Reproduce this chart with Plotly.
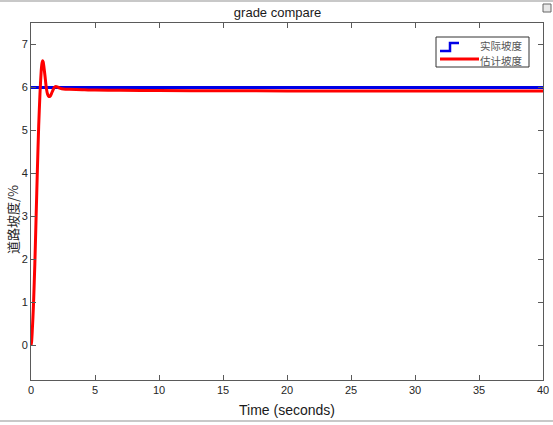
"""
grade compare: actual vs estimated road grade.
"""
import plotly.graph_objects as go

# ─── Data ────────────────────────────────────────────────────────────────────
t_actual = [0, 40]
grade_actual = [6.0, 6.0]

t_est = [0, 0.05, 0.1, 0.15, 0.2, 0.3, 0.4, 0.5, 0.6, 0.7, 0.8, 0.85, 0.9, 0.95,
         1.0, 1.1, 1.2, 1.3, 1.4, 1.5, 1.6, 1.7, 1.8, 1.9, 2.0, 2.1, 2.2, 2.4,
         2.7, 3.0, 4.0, 5.0, 7.0, 10.0, 15.0, 20.0, 30.0, 40.0]
grade_est = [0, 0.1, 0.35, 0.65, 1.0, 1.9, 3.0, 4.1, 5.1, 5.85, 6.4, 6.55, 6.62, 6.6,
             6.5, 6.25, 5.98, 5.84, 5.79, 5.8, 5.86, 5.93, 5.99, 6.02, 6.02, 6.01, 5.99, 5.97,
             5.96, 5.96, 5.95, 5.94, 5.935, 5.93, 5.925, 5.92, 5.92, 5.92]

x_ticks = [0, 5, 10, 15, 20, 25, 30, 35, 40]
y_ticks = [0, 1, 2, 3, 4, 5, 6, 7]
legend_names = ["实际坡度", "估计坡度"]

# ─── Colours ─────────────────────────────────────────────────────────────────
C_BLUE = "#0000e6"
C_RED = "#ff0000"
C_AXIS = "#5a5a5a"
C_TEXT = "#262626"
SANS = "Arial, Liberation Sans"
CJK = "Noto Sans CJK SC"

# plot area in pixels (for the hand-made legend)
L, R, T, B = 31, 543, 23, 380


def px(x):
    return (x - L) / (R - L)


def py(y):
    return (B - y) / (B - T)


fig = go.Figure()

fig.add_trace(go.Scatter(
    x=t_actual, y=grade_actual, mode="lines", line_shape="hv",
    line=dict(color=C_BLUE, width=3), name=legend_names[0], showlegend=False,
))
fig.add_trace(go.Scatter(
    x=t_est, y=grade_est, mode="lines", line_shape="spline",
    line=dict(color=C_RED, width=3, smoothing=0.6), name=legend_names[1], showlegend=False,
))

axis_common = dict(
    showgrid=False, zeroline=False, showline=True, linecolor=C_AXIS, linewidth=1,
    mirror="ticks", ticks="inside", ticklen=5, tickcolor=C_AXIS, automargin=False,
    tickfont=dict(family=SANS, size=11, color=C_TEXT),
)

fig.update_layout(
    width=553, height=425,
    margin=dict(l=L, r=553 - R, t=T, b=425 - B),
    paper_bgcolor="white", plot_bgcolor="white",
    title=dict(text="grade compare", x=px(288), xanchor="center", y=(425 - 12) / 425,
               yanchor="middle", font=dict(family=SANS, size=13, color="#1a1a1a")),
    xaxis=dict(range=[0, 40], tickvals=x_ticks, **axis_common),
    yaxis=dict(range=[-0.8, 7.5], tickvals=y_ticks, **axis_common),
    showlegend=False,
)

# axis titles
fig.add_annotation(text="Time (seconds)", xref="paper", yref="paper",
                   x=px(287), y=py(410), xanchor="center", yanchor="middle",
                   showarrow=False, font=dict(family=SANS, size=14, color="#1a1a1a"))
fig.add_annotation(text="道路坡度/%", xref="paper", yref="paper", textangle=-90,
                   x=px(12), y=py(220), xanchor="center", yanchor="middle",
                   showarrow=False, font=dict(family=CJK, size=13, color=C_TEXT))

# legend (MATLAB style, with step icon for the actual grade)
fig.add_shape(type="rect", xref="paper", yref="paper",
              x0=px(436), x1=px(529), y0=py(67), y1=py(37),
              fillcolor="white", line=dict(color="#333333", width=1))
fig.add_shape(type="path", xref="paper", yref="paper",
              path=f"M {px(440)} {py(51)} L {px(450)} {py(51)} L {px(450)} {py(43)} L {px(459)} {py(43)}",
              line=dict(color=C_BLUE, width=2.5))
fig.add_shape(type="line", xref="paper", yref="paper",
              x0=px(440), x1=px(479), y0=py(59), y1=py(59),
              line=dict(color=C_RED, width=3))
for name, yc in zip(legend_names, [45.5, 60.5]):
    fig.add_annotation(text=name, xref="paper", yref="paper", x=px(525), y=py(yc),
                       xanchor="right", yanchor="middle", showarrow=False,
                       font=dict(family=CJK, size=10.5, color="#555555"))

# window frame strips (top and bottom grey edges) and the dock icon
fig.add_shape(type="line", xref="paper", yref="paper", x0=-0.1, x1=1.1,
              y0=py(1), y1=py(1), line=dict(color="#c8c8c8", width=2))
fig.add_shape(type="line", xref="paper", yref="paper", x0=-0.1, x1=1.1,
              y0=py(421), y1=py(421), line=dict(color="#c8c8c8", width=2))
fig.add_shape(type="rect", xref="paper", yref="paper",
              x0=px(543), x1=px(551), y0=py(12), y1=py(4),
              fillcolor="#e8e8e8", line=dict(color="#666666", width=1))

fig.write_html("out.html", config={"displayModeBar": False},
               post_script="document.body.style.margin='0';")
